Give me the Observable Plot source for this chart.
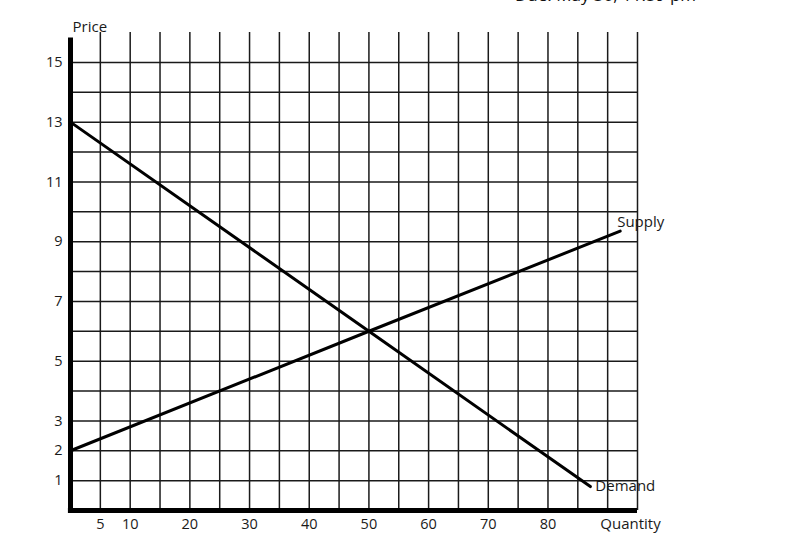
<!DOCTYPE html>
<html>
<head>
<meta charset="utf-8">
<script src="https://cdn.jsdelivr.net/npm/d3@7"></script>
<script src="https://cdn.jsdelivr.net/npm/@observablehq/plot@0.6"></script>
<style>
  html, body { margin: 0; padding: 0; background: #fff; }
  #wrap { position: relative; width: 786px; height: 542px; overflow: hidden; }
  #due { position: absolute; left: 515px; top: -17px; font: 17px "Open Sans", sans-serif; color: #111; white-space: nowrap; }
</style>
</head>
<body>
<div id="wrap">
  <div id="due">Due: May 30, 11:59 pm</div>
  <div id="chart"></div>
</div>
<script>
// Demand and supply curves (quantity, price)
const demandQ = [0, 50, 87.1];
const demandP = [13, 6, 0.8];
const supplyQ = [0, 50, 92.1];
const supplyP = [2, 6, 9.35];

// Tick labels shown
const xTickLabels = [5, 10, 20, 30, 40, 50, 60, 70, 80];
const yTickLabels = [1, 2, 3, 5, 7, 9, 11, 13, 15];

// Grid lines
const xGrid = [5, 10, 15, 20, 25, 30, 35, 40, 45, 50, 55, 60, 65, 70, 75, 80, 85, 90, 95];
const yGrid = [1, 2, 3, 4, 5, 6, 7, 8, 9, 10, 11, 12, 13, 14, 15];

const xMax = 95, yMax = 16;

const demand = demandQ.map((q, i) => ({q, p: demandP[i]}));
const supply = supplyQ.map((q, i) => ({q, p: supplyP[i]}));

const font = "'Open Sans', sans-serif";
const ink = "#1a1a1a";

const chart = Plot.plot({
  width: 786,
  height: 542,
  marginLeft: 70,
  marginRight: 149,
  marginTop: 32,
  marginBottom: 32,
  style: {fontFamily: font, background: "#fff", overflow: "visible"},
  x: {domain: [0, xMax], axis: null},
  y: {domain: [0, yMax], axis: null},
  marks: [
    Plot.ruleY(yGrid, {y: d => d, x1: 0, x2: xMax, stroke: ink, strokeWidth: 1.5}),
    Plot.ruleX(xGrid, {x: d => d, y1: 0, y2: yMax, stroke: ink, strokeWidth: 1.5}),
    Plot.ruleX([0], {y1: -0.07, y2: 15.82, stroke: "#000", strokeWidth: 5}),
    Plot.ruleY([0], {x1: -0.35, x2: xMax, stroke: "#000", strokeWidth: 5}),
    Plot.line(demand, {x: "q", y: "p", stroke: "#000", strokeWidth: 3}),
    Plot.line(supply, {x: "q", y: "p", stroke: "#000", strokeWidth: 3}),
    Plot.text(xTickLabels, {x: d => d, y: 0, dy: 14, text: d => String(d), fontSize: 14.5, fill: ink, textAnchor: "middle"}),
    Plot.text(yTickLabels, {x: 0, y: d => d, dx: -8, text: d => String(d), fontSize: 14.5, fill: ink, textAnchor: "end"}),
    Plot.text(["Price"], {x: 0, y: yMax, dx: 2, dy: -5, text: d => d, fontSize: 15, fill: ink, textAnchor: "start"}),
    Plot.text(["Quantity"], {x: xMax, y: 0, dx: -7, dy: 14, text: d => d, fontSize: 15, fill: ink, textAnchor: "middle"}),
    Plot.text(["Supply"], {x: supplyQ[2], y: supplyP[2], dx: -3, dy: -9, text: d => d, fontSize: 15, fill: ink, textAnchor: "start"}),
    Plot.text(["Demand"], {x: demandQ[2], y: demandP[2], dx: 5, dy: 0, text: d => d, fontSize: 15, fill: ink, textAnchor: "start"})
  ]
});
document.getElementById("chart").appendChild(chart);
</script>
</body>
</html>
